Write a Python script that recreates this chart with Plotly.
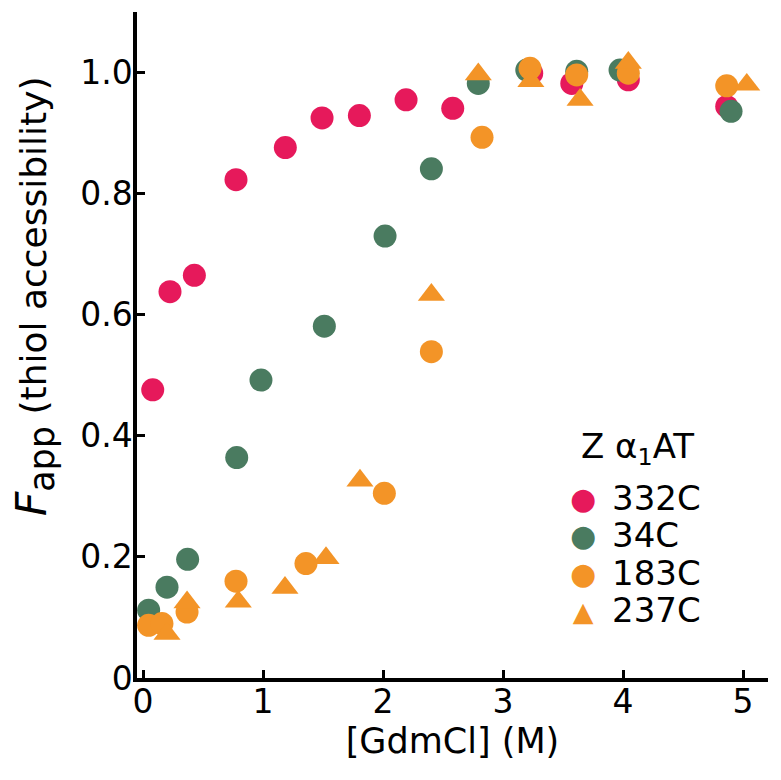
import plotly.graph_objects as go

# ---- data ----
x_332C = [0.081, 0.225, 0.428, 0.775, 1.186, 1.492, 1.803, 2.192, 2.581, 3.239, 3.573, 4.044, 4.864]
y_332C = [0.476, 0.638, 0.665, 0.823, 0.876, 0.925, 0.929, 0.955, 0.941, 0.999, 0.982, 0.988, 0.944]

x_34C = [0.047, 0.200, 0.372, 0.781, 0.983, 1.511, 2.017, 2.403, 2.794, 3.198, 3.614, 3.975, 4.900]
y_34C = [0.112, 0.150, 0.196, 0.364, 0.492, 0.581, 0.730, 0.841, 0.982, 1.004, 1.002, 1.004, 0.936]

x_183C = [0.047, 0.158, 0.367, 0.775, 1.358, 2.011, 2.403, 2.825, 3.225, 3.614, 4.044, 4.864]
y_183C = [0.087, 0.090, 0.109, 0.160, 0.189, 0.305, 0.539, 0.893, 1.007, 0.996, 0.999, 0.978]

x_237C = [0.200, 0.367, 0.794, 1.183, 1.525, 1.808, 2.403, 2.794, 3.232, 3.642, 4.044, 5.031]
y_237C = [0.073, 0.125, 0.126, 0.149, 0.198, 0.326, 0.633, 0.997, 0.986, 0.955, 1.016, 0.980]

series_names = ["332C", "34C", "183C", "237C"]
series_colors = ["#E6195B", "#4A7B60", "#F39427", "#F39427"]
series_symbols = ["circle", "circle", "circle", "triangle-up"]
legend_glyphs = ["\u25CF", "\u25CF", "\u25CF", "\u25B2"]
series_x = [x_332C, x_34C, x_183C, x_237C]
series_y = [y_332C, y_34C, y_183C, y_237C]

x_tickvals = [0, 1, 2, 3, 4, 5]
y_tickvals = [0, 0.2, 0.4, 0.6, 0.8, 1.0]
y_ticktext = ["0", "0.2", "0.4", "0.6", "0.8", "1.0"]

FONT = "DejaVu Sans"

fig = go.Figure()
for name, col, sym, xs, ys in zip(series_names, series_colors, series_symbols, series_x, series_y):
    fig.add_trace(go.Scatter(
        x=xs, y=ys, mode="markers", name=name, cliponaxis=False,
        marker=dict(color=col, symbol=sym, size=23 if sym == "circle" else 23.5,
                    line=dict(width=0)),
        showlegend=False,
    ))

# manual legend: title, a column of coloured glyph keys and a column of labels
glyph_lines = "<br>".join(
    '<span style="color:%s;font-size:%dpx">%s</span>' % (c, 30 if g == "\u25CF" else 27, g)
    for c, g in zip(series_colors, legend_glyphs))
label_lines = "<br>".join('<span style="font-size:34px">%s</span>' % n for n in series_names)

annotations = [
    dict(text="Z \u03b1<sub>1</sub>AT", xref="paper", yref="paper", x=0.7005, y=0.3453,
         xanchor="left", yanchor="middle", showarrow=False,
         font=dict(family=FONT, size=34, color="black")),
    dict(text=glyph_lines, xref="paper", yref="paper", x=0.7073, y=0.1857,
         xanchor="center", yanchor="middle", showarrow=False, align="center",
         font=dict(family=FONT, size=28.8, color="black")),
    dict(text=label_lines, xref="paper", yref="paper", x=0.7496, y=0.1857,
         xanchor="left", yanchor="middle", showarrow=False, align="left",
         font=dict(family=FONT, size=28.8, color="black")),
    # y-axis title as annotation (sits above centre like the reference)
    dict(text='<span style="font-size:42px"><i>F</i></span><sub><span style="font-size:35px">app</span></sub> (thiol accessibility)',
         xref="paper", yref="paper", x=-0.1616, y=0.5736, textangle=-90,
         xanchor="center", yanchor="middle", showarrow=False,
         font=dict(family=FONT, size=36, color="black")),
]

# the page body has an 8px margin: size the figure so the plot area lands
# at the same pixels as the reference (x 137..768, y 12..678)
fig.update_layout(
    width=765, height=764,
    margin=dict(l=129, r=5, t=4, b=94),
    paper_bgcolor="white", plot_bgcolor="white",
    font=dict(family=FONT, size=33, color="black"),
    annotations=annotations,
    showlegend=False,
)
fig.update_xaxes(
    range=[-0.05, 5.208], tickvals=x_tickvals, ticks="inside", ticklen=8, tickwidth=3,
    tickcolor="black", showline=True, linewidth=3.5, linecolor="black",
    showgrid=False, zeroline=False, ticklabelstandoff=-8,
    tickfont=dict(family=FONT, size=33),
    title=dict(text="[GdmCl] (M)", font=dict(family=FONT, size=35), standoff=6),
)
fig.update_yaxes(
    range=[0, 1.1], tickvals=y_tickvals, ticktext=y_ticktext, ticks="inside", ticklen=8,
    tickwidth=3, tickcolor="black", showline=True, linewidth=3.5, linecolor="black",
    showgrid=False, zeroline=False, ticklabelstandoff=-6,
    tickfont=dict(family=FONT, size=33),
)

fig.write_html("out.html")
